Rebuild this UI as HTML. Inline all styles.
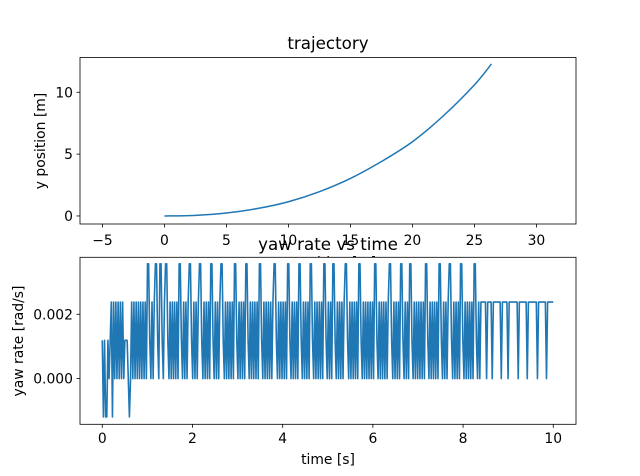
<!DOCTYPE html>
<html><head><meta charset="utf-8"><style>
html,body{margin:0;padding:0;background:#fff}
svg{display:block;font-family:"DejaVu Sans","Liberation Sans",sans-serif}
</style></head><body>
<svg id="fig" width="640" height="476" viewBox="0 0 640 476">
<rect width="640" height="476" fill="#fff"/>
<g id="topAxes"></g>
<text x="328" y="267" font-size="13.9" text-anchor="middle" fill="#000">x position [m]</text>
<g id="botAxes"></g>
</svg>
<script>
// trajectory data
const trajX = [0, 2.5, 5, 7.5, 10, 12.5, 15, 17.5, 20, 22.5, 25, 26.37];
const trajY = [0, 0.05, 0.24, 0.6, 1.15, 1.96, 3.03, 4.4, 6.0, 8.1, 10.6, 12.29];
const topXTicks = [-5, 0, 5, 10, 15, 20, 25, 30];
const topYTicks = [0, 5, 10];
// yaw rate data: level codes (a=-1), one per sample, uniformly spaced over 0..10 s
const yawCodes = "1a1aa1012a" + "20202020201110" + "a" + "020202020202020" +
 "3310202" + "3310" + "33102" + "331020202020" + "331020202" + "331020202" + "3310202020" +
 "331020202" + "331020202020" + "3310202020" + "331020202020" + "3310202020202" + "331020202020" +
 "3310202020" + "3310202020" + "331020202020" + "33102020" + "33102020202" + "331020202020" +
 "33102020202020" + "3310202020202" + "3310202020" + "33102020" + "33102020202020" + "331020202020" +
 "331020202" + "3310202020" + "331020202020" + "331020" +
 "22222022220222222202222202222222202222222022222222022222220222222";
const yawStep = 0.00119;
const tStart = 0, tEnd = 10;
const botXTicks = [0, 2, 4, 6, 8, 10];
const botYTicks = [0, 0.002];
const botYTickLabels = ["0.000", "0.002"];

const NS = "http://www.w3.org/2000/svg";
function mk(parent, tag, attrs) {
  const e = document.createElementNS(NS, tag);
  for (const k in attrs) e.setAttribute(k, attrs[k]);
  parent.appendChild(e);
  return e;
}
function makeScales(L, T, R, B, xmin, xmax, ymin, ymax) {
  const sx = v => L + (v - xmin) / (xmax - xmin) * (R - L);
  const sy = v => B - (v - ymin) / (ymax - ymin) * (B - T);
  return { sx, sy };
}
// ---- top axes
const topG = document.getElementById('topAxes');
const SA = makeScales(80, 57.5, 576, 224, -6.81, 33.19, -0.65, 12.81);
let bg = mk(topG, 'rect', { x: 80, y: 57.5, width: 496, height: 166.5, fill: '#fff' });


const P = trajX.map((x, i) => [SA.sx(x), SA.sy(trajY[i])]);
let d = 'M' + P[0][0].toFixed(2) + ',' + P[0][1].toFixed(2);
for (let i = 0; i < P.length - 1; i++) {
  const p0 = P[Math.max(0, i - 1)], p1 = P[i], p2 = P[i + 1], p3 = P[Math.min(P.length - 1, i + 2)];
  const c1 = [p1[0] + (p2[0] - p0[0]) / 6, p1[1] + (p2[1] - p0[1]) / 6];
  const c2 = [p2[0] - (p3[0] - p1[0]) / 6, p2[1] - (p3[1] - p1[1]) / 6];
  d += ' C' + c1[0].toFixed(2) + ',' + c1[1].toFixed(2) + ' ' + c2[0].toFixed(2) + ',' + c2[1].toFixed(2) + ' ' + p2[0].toFixed(2) + ',' + p2[1].toFixed(2);
}
let pl = mk(topG, 'path', { d: d, fill: 'none', stroke: '#1f77b4', 'stroke-width': 1.5, 'stroke-linejoin': 'round' });


topXTicks.forEach(v => {
  const x = SA.sx(v);
  const t = mk(topG, 'line', { x1: x, x2: x, y1: 224, y2: 227.5, stroke: '#000', 'stroke-width': 0.8 });
  
  
  const l = mk(topG, 'text', { x: x, y: 245, 'font-size': 13.9, 'text-anchor': 'middle' });
  l.textContent = v < 0 ? '\u2212' + Math.abs(v) : String(v);
  
  
});
topYTicks.forEach(v => {
  const y = SA.sy(v);
  const t = mk(topG, 'line', { x1: 76.5, x2: 80, y1: y, y2: y, stroke: '#000', 'stroke-width': 0.8 });
  
  
  const l = mk(topG, 'text', { x: 73, y: y + 5, 'font-size': 13.9, 'text-anchor': 'end' });
  l.textContent = String(v);
  
  
});
let fr = mk(topG, 'rect', { x: 80, y: 57.5, width: 496, height: 166.5, fill: 'none', stroke: '#000', 'stroke-width': 0.8 });


let tt = mk(topG, 'text', { x: 328, y: 49, 'font-size': 16.7, 'text-anchor': 'middle' });
tt.textContent = 'trajectory';


let yl = mk(topG, 'text', { x: 0, y: 0, 'font-size': 13.9, 'text-anchor': 'middle', transform: 'translate(45,141) rotate(-90)' });
yl.textContent = 'y position [m]';



// ---- bottom axes
const botG = document.getElementById('botAxes');
const SB = makeScales(80, 257.3, 576, 424.3, -0.494, 10.504, -0.00142, 0.00377);
let bg2 = mk(botG, 'rect', { x: 80, y: 257.3, width: 496, height: 167, fill: '#fff' });


const n = yawCodes.length;
let ypts = [];
for (let i = 0; i < n; i++) {
  const c = yawCodes[i];
  const lev = c === 'a' ? -1 : +c;
  const t = tStart + (tEnd - tStart) * i / (n - 1);
  ypts.push(SB.sx(t).toFixed(2) + ',' + SB.sy(lev * yawStep).toFixed(2));
}
let pl2 = mk(botG, 'polyline', { points: ypts.join(' '), fill: 'none', stroke: '#1f77b4', 'stroke-width': 1.6, 'stroke-linejoin': 'round' });


botXTicks.forEach(v => {
  const x = SB.sx(v);
  const t = mk(botG, 'line', { x1: x, x2: x, y1: 424.3, y2: 427.8, stroke: '#000', 'stroke-width': 0.8 });
  
  
  const l = mk(botG, 'text', { x: x, y: 443, 'font-size': 13.9, 'text-anchor': 'middle' });
  l.textContent = String(v);
  
  
});
botYTicks.forEach((v, i) => {
  const y = SB.sy(v);
  const t = mk(botG, 'line', { x1: 76.5, x2: 80, y1: y, y2: y, stroke: '#000', 'stroke-width': 0.8 });
  
  
  const l = mk(botG, 'text', { x: 73, y: y + 5, 'font-size': 13.9, 'text-anchor': 'end' });
  l.textContent = botYTickLabels[i];
  
  
});
let fr2 = mk(botG, 'rect', { x: 80, y: 257.3, width: 496, height: 167, fill: 'none', stroke: '#000', 'stroke-width': 0.8 });


let tt2 = mk(botG, 'text', { x: 328, y: 250, 'font-size': 16.7, 'text-anchor': 'middle' });
tt2.textContent = 'yaw rate vs time';


let xl2 = mk(botG, 'text', { x: 328, y: 464, 'font-size': 13.9, 'text-anchor': 'middle' });
xl2.textContent = 'time [s]';


let yl2 = mk(botG, 'text', { x: 0, y: 0, 'font-size': 13.9, 'text-anchor': 'middle', transform: 'translate(23,341) rotate(-90)' });
yl2.textContent = 'yaw rate [rad/s]';


</script>
</body></html>
